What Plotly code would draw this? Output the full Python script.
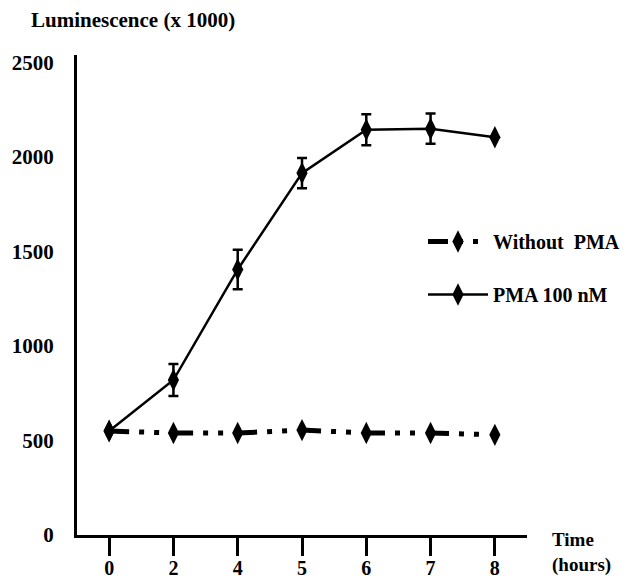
import plotly.graph_objects as go

time_labels = ["0", "2", "4", "5", "6", "7", "8"]
without_pma = [550, 540, 540, 555, 540, 540, 530]
pma_100 = [550, 820, 1405, 1915, 2145, 2150, 2105]
pma_err = [0, 85, 105, 80, 82, 80, 0]
y_ticks = [0, 500, 1000, 1500, 2000, 2500]

FONT = "Liberation Serif"

def bfont(size):
    return dict(family=FONT, size=size, color="black", weight="bold")

fig = go.Figure()
fig.add_trace(go.Scatter(
    x=time_labels, y=without_pma, name="Without  PMA",
    mode="lines+markers",
    line=dict(color="black", width=5, dash="20px,10px,5px,10px,5px,14px"),
    marker=dict(symbol="diamond-tall", size=16, color="black"),
    legendgroup="a",
))
fig.add_trace(go.Scatter(
    x=time_labels, y=pma_100, name="PMA 100 nM",
    mode="lines+markers",
    line=dict(color="black", width=2.5),
    marker=dict(symbol="diamond-tall", size=16, color="black"),
    error_y=dict(type="data", array=pma_err, visible=True, color="black", thickness=2.5, width=5),
    legendgroup="b",
))

# page body adds an 8px offset; figure is drawn 8px smaller and shifted
fig.update_layout(
    width=625, height=570,
    margin=dict(l=69, r=106, t=47, b=43, autoexpand=False),
    paper_bgcolor="white", plot_bgcolor="white",
    font=bfont(18),
    showlegend=True,
    legend=dict(x=(423 - 77) / 450, y=(535 - 222) / 480, xanchor="left", yanchor="top",
                bgcolor="rgba(0,0,0,0)", tracegroupgap=24, itemwidth=60,
                font=bfont(20)),
    xaxis=dict(type="category", range=[-0.5, 6.5], showline=True, linecolor="black",
               linewidth=3, ticks="outside", ticklen=18, tickwidth=3, tickcolor="black",
               showgrid=False, zeroline=False, automargin=False,
               ticklabelstandoff=-5,
               tickfont=bfont(20)),
    yaxis=dict(range=[0, 2540], tickvals=y_ticks, showline=True, linecolor="black",
               linewidth=3, ticks="", showgrid=False, zeroline=False, automargin=False,
               ticklabelstandoff=16,
               tickfont=bfont(21)),
    annotations=[
        dict(text="Luminescence (x 1000)", xref="paper", yref="paper",
             x=-48/450, y=1 + 35/480, xanchor="left", yanchor="middle",
             showarrow=False, font=bfont(21)),
        dict(text="Time<br>(hours)", xref="paper", yref="paper",
             x=1 + 23/450, y=-43/480, xanchor="left", yanchor="bottom", align="left",
             showarrow=False, font=bfont(19)),
    ],
)

fig.write_html("out.html")
